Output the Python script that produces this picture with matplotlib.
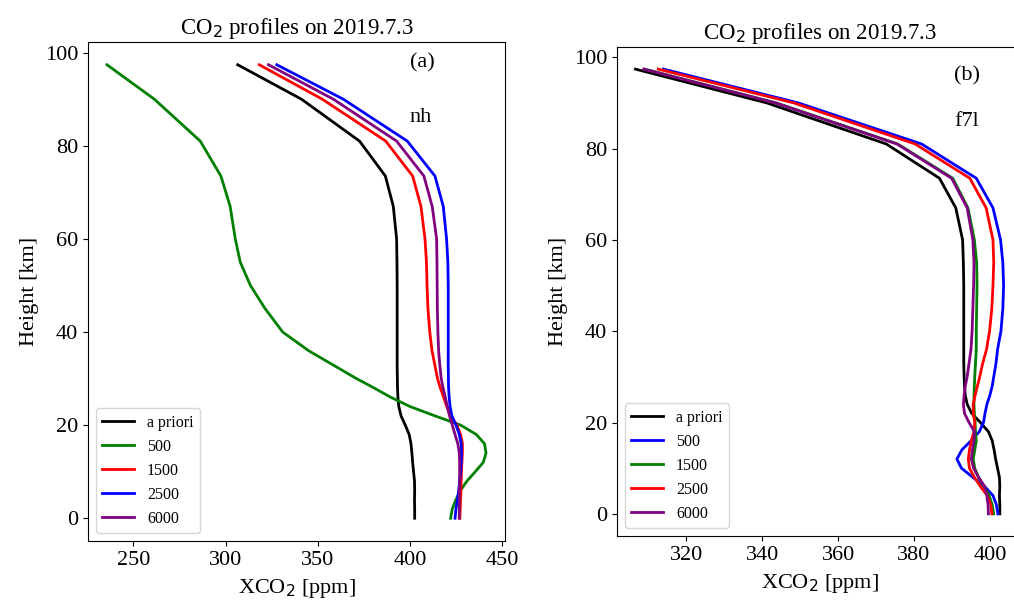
import matplotlib
matplotlib.use("Agg")
import matplotlib.pyplot as plt

plt.rcParams["font.family"] = ["Liberation Serif", "DejaVu Serif"]

# Height levels [km]
heights = [0, 2, 4, 6, 8, 10, 12, 14, 16, 18, 20, 22, 24, 26, 28, 30,
           33, 36, 40, 45, 50, 55, 60, 67, 73.5, 81, 90, 97.4]

# a priori profile (same in both panels)
apriori = [402.6, 402.6, 402.5, 402.6, 402.5, 402.0, 401.5, 401.1, 400.6, 399.6,
           397.5, 395.2, 394.0, 393.5, 393.3, 393.2, 393.1, 393.1, 393.1, 393.1,
           393.1, 393.0, 392.8, 391.0, 386.7, 372.7, 341.2, 306.6]

# panel (a): nh
nh_500 = [422.1, 423.0, 425.0, 427.5, 431.0, 435.5, 439.8, 441.3, 440.5, 436.0,
          427.5, 413.5, 400.0, 389.5, 380.5, 371.0, 358.0, 345.0, 331.0, 321.5,
          313.5, 308.0, 305.3, 302.5, 297.5, 286.3, 261.4, 235.7]
nh_1500 = [427.1, 427.3, 427.5, 427.7, 427.8, 428.0, 428.2, 428.5, 428.5, 427.5,
           425.5, 422.0, 420.0, 418.3, 416.5, 415.0, 413.5, 412.0, 410.8, 409.8,
           409.3, 409.0, 408.2, 406.0, 401.5, 386.9, 352.5, 318.3]
nh_2500 = [424.5, 425.0, 425.8, 426.5, 427.0, 427.5, 427.8, 428.0, 427.8, 426.8,
           425.0, 422.8, 421.8, 421.3, 421.0, 420.9, 420.8, 420.8, 420.8, 420.8,
           420.8, 420.6, 419.9, 418.1, 413.6, 398.6, 363.9, 327.8]
nh_6000 = [426.8, 426.8, 426.8, 426.9, 427.0, 427.0, 427.0, 426.8, 426.0, 424.5,
           423.0, 421.5, 420.3, 419.2, 418.0, 417.0, 416.2, 415.6, 415.2, 414.9,
           414.8, 414.7, 414.5, 412.1, 407.6, 392.8, 358.5, 323.3]

# panel (b): f7l
f7l_500 = [402.1, 401.7, 400.8, 398.6, 395.5, 392.5, 391.3, 392.6, 395.0, 397.2,
           398.3, 398.7, 399.2, 400.0, 400.6, 401.0, 401.6, 402.0, 402.9, 403.4,
           403.6, 403.4, 402.8, 400.8, 396.4, 382.0, 349.5, 314.0]
f7l_1500 = [401.0, 400.6, 399.8, 398.5, 397.0, 396.0, 395.6, 396.0, 396.4, 396.2,
            396.1, 395.9, 395.8, 395.8, 395.9, 396.0, 396.2, 396.4, 396.4, 396.5,
            396.6, 396.5, 395.9, 394.2, 390.2, 375.7, 343.7, 309.0]
f7l_2500 = [400.5, 400.2, 399.3, 397.5, 395.9, 394.6, 394.3, 394.6, 395.1, 395.8,
            396.0, 395.6, 395.6, 396.1, 396.7, 397.3, 398.1, 399.1, 399.9, 400.5,
            400.8, 401.0, 400.8, 399.0, 394.7, 380.3, 348.3, 312.6]
f7l_6000 = [399.6, 399.5, 399.2, 398.6, 397.0, 395.7, 395.1, 395.4, 395.8, 395.9,
            394.5, 393.3, 393.0, 393.2, 393.5, 394.0, 394.5, 395.0, 395.3, 395.5,
            395.7, 395.8, 395.5, 394.0, 389.9, 375.5, 343.5, 308.8]

title = r"CO$_2$ profiles on 2019.7.3"
xlabel = r"XCO$_2$ [ppm]"
ylabel = "Height [km]"

fig = plt.figure(figsize=(10.14, 6.01), dpi=100)
ax1 = fig.add_axes([0.0868, 0.100, 0.4112, 0.830])
ax2 = fig.add_axes([0.6085, 0.108, 0.3994, 0.814])

lw = 2.0

# Panel (a)
ax1.plot(apriori, heights, color="black", lw=lw, label="a priori")
ax1.plot(nh_500, heights, color="green", lw=lw, label="500")
ax1.plot(nh_1500, heights, color="red", lw=lw, label="1500")
ax1.plot(nh_2500, heights, color="blue", lw=lw, label="2500")
ax1.plot(nh_6000, heights, color="purple", lw=lw, label="6000")
ax1.set_xticks([250, 300, 350, 400, 450])
ax1.text(400, 96.8, "(a)", fontsize=16)
ax1.text(400, 85, "nh", fontsize=16)

# Panel (b)
ax2.plot(apriori, heights, color="black", lw=lw, label="a priori")
ax2.plot(f7l_500, heights, color="blue", lw=lw, label="500")
ax2.plot(f7l_1500, heights, color="green", lw=lw, label="1500")
ax2.plot(f7l_2500, heights, color="red", lw=lw, label="2500")
ax2.plot(f7l_6000, heights, color="purple", lw=lw, label="6000")
ax2.set_xticks([320, 340, 360, 380, 400])
ax2.text(390.5, 95, "(b)", fontsize=16)
ax2.text(390.5, 85, "f7l", fontsize=16)

for ax in (ax1, ax2):
    ax.set_title(title, fontsize=16.5)
    ax.set_xlabel(xlabel, fontsize=16, labelpad=5)
    ax.set_ylabel(ylabel, fontsize=16)
    ax.set_yticks([0, 20, 40, 60, 80, 100])
    ax.tick_params(labelsize=16)
    ax.legend(loc="lower left", fontsize=11.5)

fig.savefig("out.png", dpi=100)
